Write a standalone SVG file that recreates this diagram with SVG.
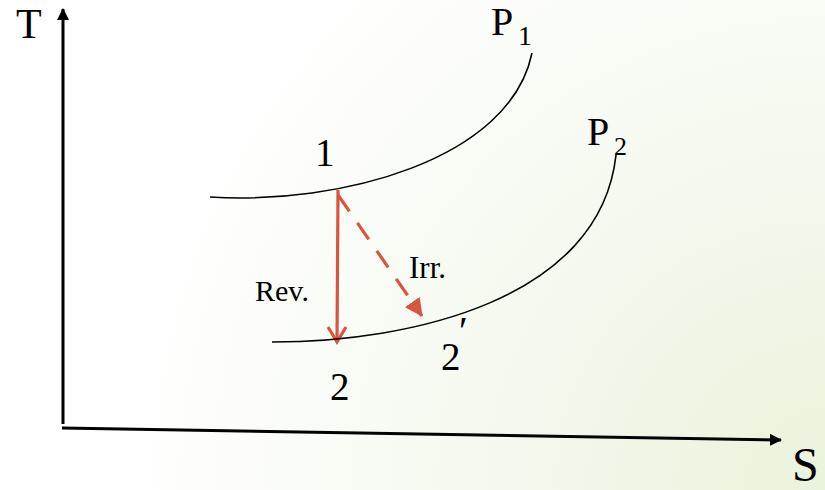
<svg xmlns="http://www.w3.org/2000/svg" width="825" height="490" viewBox="0 0 825 490">
  <defs>
    <radialGradient id="bg" cx="825" cy="490" r="700" gradientUnits="userSpaceOnUse">
      <stop offset="0" stop-color="#eaf3dc"/>
      <stop offset="0.6" stop-color="#f7faf2"/>
      <stop offset="1" stop-color="#ffffff"/>
    </radialGradient>
    <marker id="axHead" viewBox="0 0 12 12" refX="11" refY="6" markerWidth="12" markerHeight="12" markerUnits="userSpaceOnUse" orient="auto">
      <path d="M0,0 L12,6 L0,12 Z" fill="#000"/>
    </marker>
    <marker id="irrHead" viewBox="0 0 18 18" refX="17" refY="9" markerWidth="18" markerHeight="18" markerUnits="userSpaceOnUse" orient="auto">
      <path d="M0,0 L18,9 L0,18 Z" fill="#d9553f"/>
    </marker>
  </defs>
  <style>
    text { font-family: "Liberation Serif", "Times New Roman", "DejaVu Serif", serif; fill: #000; }
    .curve { fill: none; stroke: #000; stroke-width: 1.6; }
    .axis { fill: none; stroke: #000; stroke-width: 3; }
    .red { fill: none; stroke: #d9553f; stroke-width: 3.2; }
  </style>
  <rect width="825" height="490" fill="url(#bg)"/>

  <g id="connectors">
    <line id="t-axis" class="axis" x1="63" y1="424" x2="63" y2="9" marker-end="url(#axHead)"/>
    <line id="s-axis" class="axis" x1="62" y1="428" x2="781" y2="440" marker-end="url(#axHead)"/>
    <path id="rev" class="red" d="M338,190 L337,342"/>
    <path id="rev-head" class="red" d="M328,327 L337,342 L346,327" stroke-linejoin="miter"/>
    <path id="irr" class="red" d="M338,195 L422,316" stroke-width="4" stroke-dasharray="20 14" marker-end="url(#irrHead)"/>
  </g>

  <g id="curve-p1">
    <path class="curve" d="M210,197 C340,205 510,160 532,53"/>
    <text x="491" y="35" font-size="40">P</text>
    <text x="518" y="45" font-size="28">1</text>
  </g>
  <g id="curve-p2">
    <path class="curve" d="M272,342 C410,342 600,300 616,155"/>
    <text x="587" y="145" font-size="40">P</text>
    <text x="614" y="155" font-size="26">2</text>
  </g>

  <g id="axis-labels">
    <text x="16" y="38" font-size="42">T</text>
    <text x="792" y="481" font-size="48">S</text>
  </g>

  <g id="state-1">
    <text x="315" y="166" font-size="39">1</text>
  </g>
  <g id="state-2">
    <text x="330" y="400" font-size="39">2</text>
  </g>
  <g id="state-2prime">
    <text x="441" y="370" font-size="39">2</text>
    <text x="459" y="344" font-size="40">′</text>
  </g>
  <g id="process-labels">
    <text x="255" y="301" font-size="30">Rev.</text>
    <text x="409" y="278" font-size="31">Irr.</text>
  </g>
</svg>
